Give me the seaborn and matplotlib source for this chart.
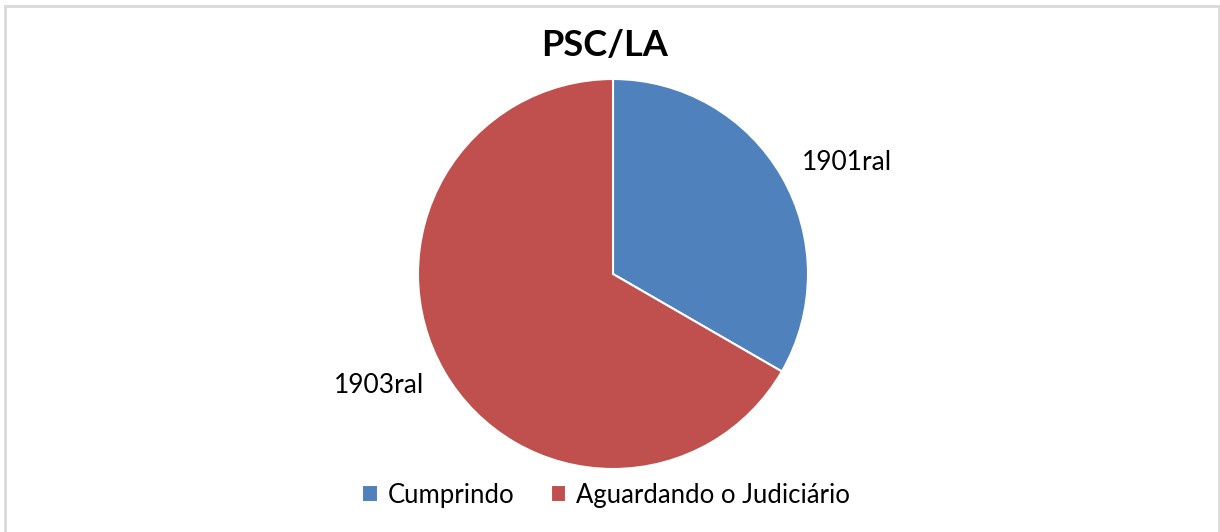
import numpy as np
import seaborn as sns
import matplotlib.pyplot as plt
from matplotlib.patches import Rectangle

# data
categories = ["Cumprindo", "Aguardando o Judiciário"]
values = [1, 2]
slice_labels = ["1901ral", "1903ral"]
colors = ["#4F81BD", "#C0504D"]

sns.set_theme(style="white")
plt.rcParams["font.family"] = ["Lato", "DejaVu Sans"]
plt.rcParams["text.color"] = "black"

W, H = 1220, 532
fig = plt.figure(figsize=(W / 100, H / 100), dpi=100)

# light grey frame around the chart area
fig.patches.append(Rectangle((5 / W, -0.02), 1214 / W, 1.02 - 6 / H,
                             transform=fig.transFigure, fill=False,
                             edgecolor="#d9d9d9", linewidth=2))

# pie centre (613, 274), radius 195 px
cx, cy, r = 613, 274, 195
ax = fig.add_axes([(cx - r) / W, (H - cy - r) / H, 2 * r / W, 2 * r / H])
wedges, _ = ax.pie(values, colors=colors, startangle=90, counterclock=False,
                   wedgeprops=dict(edgecolor="white", linewidth=1.5))

# data labels just outside each slice, a bit below the slice middle
for w, lab in zip(wedges, slice_labels):
    ang = np.deg2rad((w.theta1 + w.theta2) / 2 - 4.5)
    ax.text(1.33 * np.cos(ang), 1.33 * np.sin(ang), lab, ha="center",
            va="center", fontsize=19, color="black")

ax.set_xlim(-1, 1)
ax.set_ylim(-1, 1)
ax.set_aspect("equal")
ax.axis("off")

fig.text(605 / W, 1 - 46 / H, "PSC/LA", ha="center", va="center",
         fontsize=26, fontweight="bold", color="black")

fig.legend(wedges, categories, loc="center", bbox_to_anchor=(0.497, 1 - 495 / H),
           ncol=2, frameon=False, fontsize=18.5, handlelength=0.6,
           handleheight=0.6, handletextpad=0.4, columnspacing=1.4,
           labelcolor="black")

fig.savefig("out.png", dpi=100)
